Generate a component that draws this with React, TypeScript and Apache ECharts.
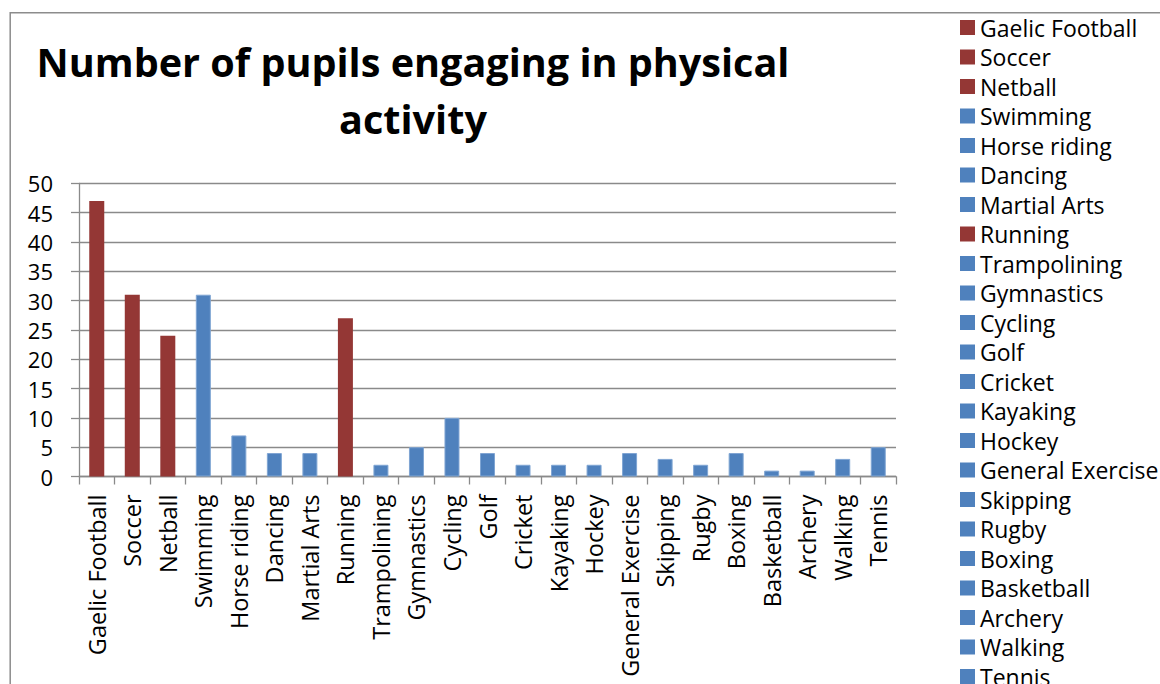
import React, { useEffect, useRef } from "react";
import * as echarts from "echarts";

// Activities, in the order they appear on the axis and legend
const activities: string[] = [
  "Gaelic Football", "Soccer", "Netball", "Swimming", "Horse riding", "Dancing",
  "Martial Arts", "Running", "Trampolining", "Gymnastics", "Cycling", "Golf",
  "Cricket", "Kayaking", "Hockey", "General Exercise", "Skipping", "Rugby",
  "Boxing", "Basketball", "Archery", "Walking", "Tennis",
];

// Number of pupils per activity
const pupils: number[] = [
  47, 31, 24, 31, 7, 4, 4, 27, 2, 5, 10, 4, 2, 2, 2, 4, 3, 2, 4, 1, 1, 3, 5,
];

// Team / running activities are drawn in red, the rest in blue
const redActivities: string[] = ["Gaelic Football", "Soccer", "Netball", "Running"];

const yTicks = { min: 0, max: 50, interval: 5 };

const RED = "#943735";
const BLUE = "#4F81BD";
const GRID = "#8a8a8a";
const FONT = "'Open Sans', 'Noto Sans', sans-serif";

export default function App() {
  const ref = useRef<HTMLDivElement>(null);

  useEffect(() => {
    if (!ref.current) return;
    const chart = echarts.init(ref.current, undefined, { renderer: "svg" });

    // One series per activity, all stacked into the same slot so each
    // bar gets its own legend entry.
    const series = activities.map((name, i) => {
      const red = redActivities.includes(name);
      return {
        name,
        type: "bar" as const,
        stack: "all",
        barWidth: 15,
        data: activities.map((_, j) => (j === i ? pupils[i] : "-")),
        itemStyle: red
          ? { color: RED }
          : { color: BLUE, borderColor: "#7fa5d3", borderWidth: 1 },
      };
    });

    chart.setOption({
      animation: false,
      backgroundColor: "#ffffff",
      textStyle: { fontFamily: FONT },
      grid: { left: 79, top: 183.3, right: 264, bottom: 207.5, containLabel: false },
      legend: {
        orient: "vertical",
        left: 960,
        top: 16,
        height: 1000,
        padding: 0,
        icon: "rect",
        itemWidth: 15,
        itemHeight: 15,
        itemGap: 6.5,
        selectedMode: false,
        itemStyle: { borderWidth: 0 },
        textStyle: { fontFamily: FONT, fontSize: 23, lineHeight: 22, color: "#000" },
        data: activities,
      },
      xAxis: {
        type: "category",
        data: activities,
        axisLine: { show: true, lineStyle: { color: GRID, width: 1.3 } },
        axisTick: { show: true, length: 8, interval: 0, alignWithLabel: false, lineStyle: { color: GRID, width: 1.3 } },
        axisLabel: {
          interval: 0,
          rotate: 90,
          margin: 18,
          fontFamily: FONT,
          fontSize: 23.5,
          color: "#000",
        },
      },
      yAxis: {
        type: "value",
        min: yTicks.min,
        max: yTicks.max,
        interval: yTicks.interval,
        axisLine: { show: true, lineStyle: { color: GRID, width: 1.3 } },
        axisTick: { show: true, length: 8, lineStyle: { color: GRID, width: 1.3 } },
        splitLine: { show: true, lineStyle: { color: GRID, width: 1.3 } },
        axisLabel: { margin: 26, fontFamily: FONT, fontSize: 22, color: "#000" },
      },
      graphic: [
        {
          type: "rect",
          shape: { x: 10.2, y: 12.8, width: 1400, height: 900 },
          style: { fill: "none", stroke: "#8c8c8c", lineWidth: 1.5 },
          silent: true,
        },
        {
          type: "text",
          x: 413,
          y: 33,
          style: {
            text: "Number of pupils engaging in physical\nactivity",
            fontFamily: FONT,
            fontWeight: "bold",
            fontSize: 39.6,
            lineHeight: 57,
            fill: "#000",
            textAlign: "center",
            textVerticalAlign: "top",
          },
          silent: true,
        },
      ],
      series,
    });

    return () => chart.dispose();
  }, []);

  return (
    <div
      ref={ref}
      style={{ position: "fixed", left: 0, top: 0, width: 1160, height: 684 }}
    />
  );
}
